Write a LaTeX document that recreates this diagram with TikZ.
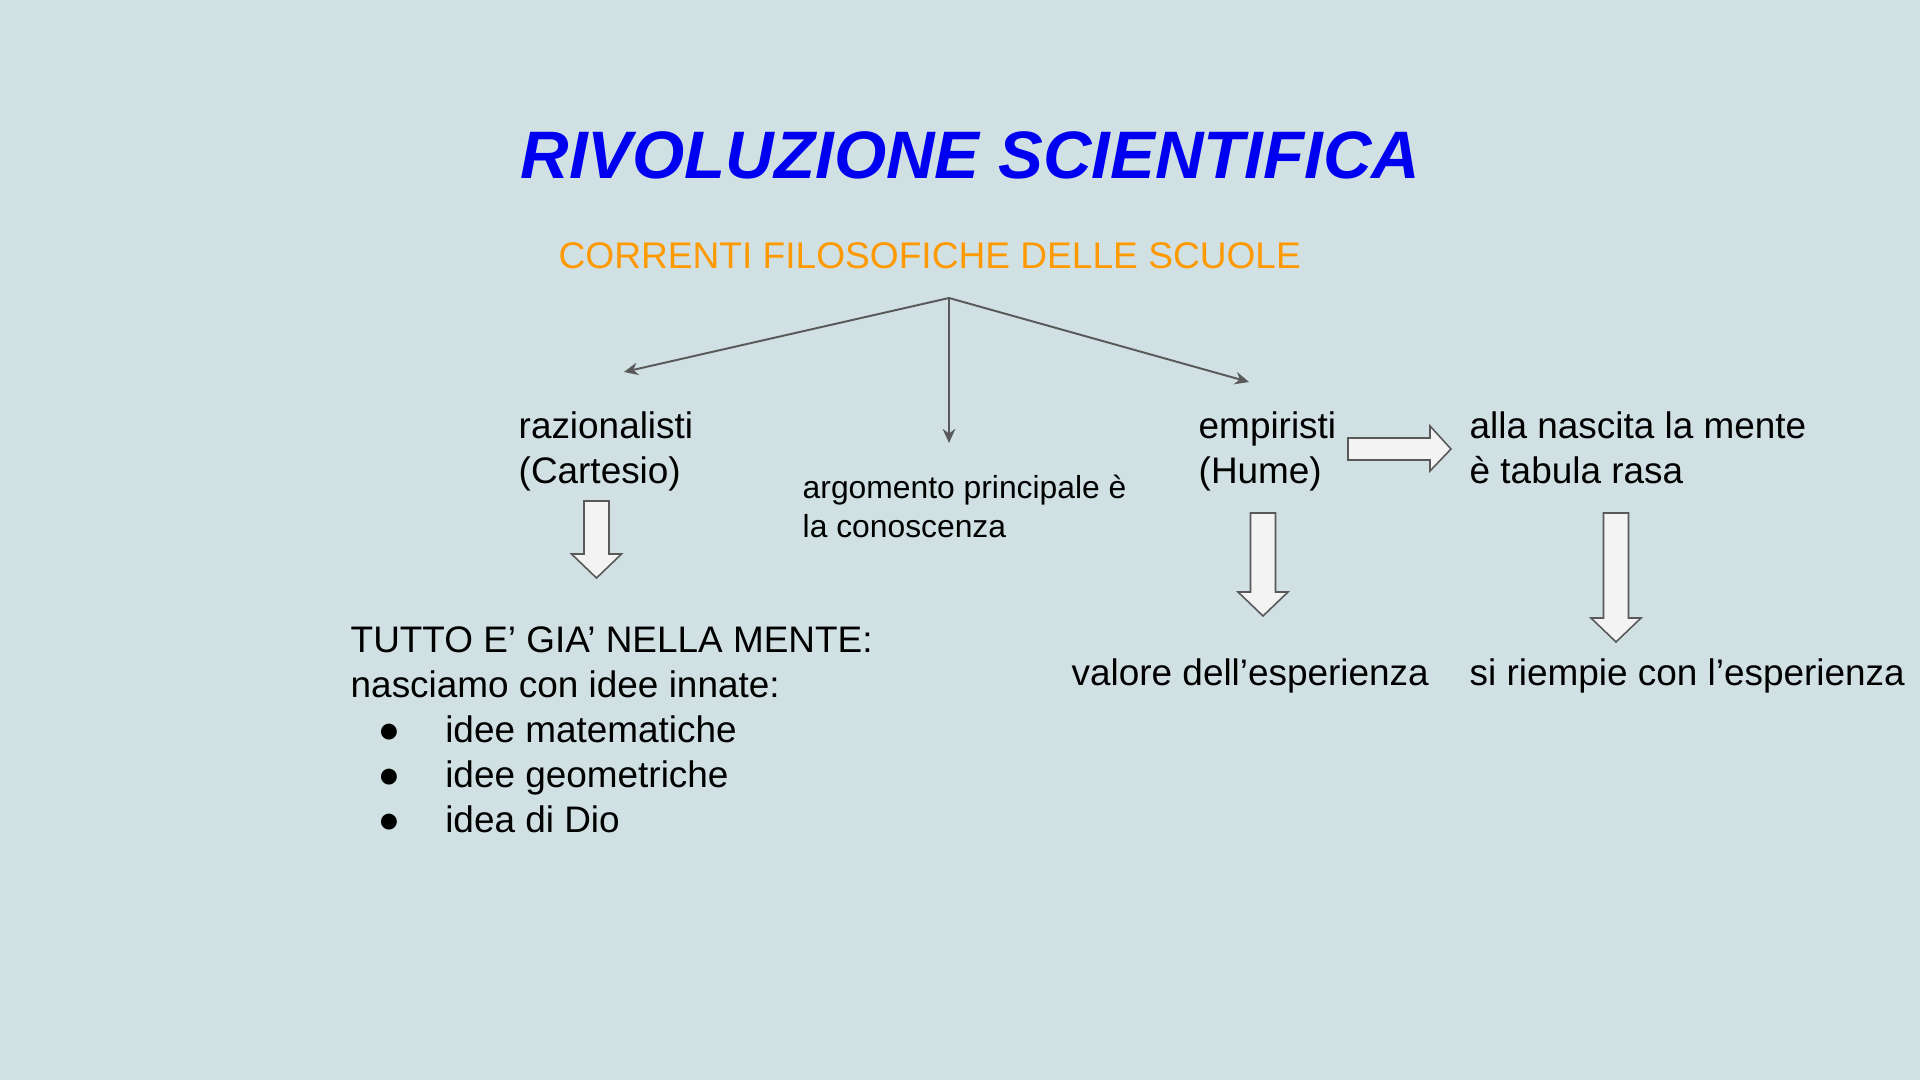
\documentclass[tikz,border=0pt]{standalone}
\usepackage{fontspec}
\setmainfont{Liberation Sans}
\usetikzlibrary{arrows.meta,positioning}

\definecolor{sfondo}{HTML}{D0E0E3}
\definecolor{blutitolo}{HTML}{0000F0}
\definecolor{arancio}{HTML}{FF9900}
\definecolor{grigiolinea}{HTML}{595959}
\definecolor{grigiofreccia}{HTML}{F3F3F3}

% block arrow pointing down: x centre, y top, y tip
\newcommand{\frecciagiu}[3]{%
  \draw[freccia blocco] (#1-12.5,#2) -- (#1+12.5,#2) -- (#1+12.5,#3-24)
    -- (#1+25,#3-24) -- (#1,#3) -- (#1-25,#3-24) -- (#1-12.5,#3-24) -- cycle;}

\begin{document}
\begin{tikzpicture}[x=0.01cm,y=-0.01cm]
   \tikzset{titolo node/.style={anchor=base west, inner sep=0,
   		text=blutitolo, font=\fontsize{19.1}{23}\selectfont\bfseries\itshape}, }
   \tikzset{sotto node/.style={anchor=base west, inner sep=0,
   		text=arancio, font=\fontsize{10.55}{12.8}\selectfont}, }
   \tikzset{testo node/.style={anchor=base west, inner sep=0, align=left,
   		font=\fontsize{10.5}{12.8}\selectfont}, }
   \tikzset{piccolo node/.style={anchor=base west, inner sep=0, align=left,
   		font=\fontsize{9.05}{11.1}\selectfont}, }
   \tikzset{linea/.style={draw=grigiolinea, line width=0.55pt,
   		-{Stealth[length=4pt,width=3.6pt]}},}
   \tikzset{freccia blocco/.style={draw=grigiolinea, fill=grigiofreccia,
   		line width=0.45pt, line join=miter},}

\useasboundingbox (0,0) rectangle (1920,1080);
\fill[sfondo] (0,0) rectangle (1920,1080);

\node[titolo node] (titolo) at (520,179) {RIVOLUZIONE SCIENTIFICA};
\node[sotto node] (correnti) at (558,269) {CORRENTI FILOSOFICHE DELLE SCUOLE};

% base = last line
\node[testo node] (raz) at (518,484) {razionalisti\\(Cartesio)};
\node[piccolo node] (arg) at (802,538) {argomento principale è\\la conoscenza};
\node[testo node] (emp) at (1198,484) {empiristi\\(Hume)};
\node[testo node] (nascita) at (1469,484) {alla nascita la mente\\è tabula rasa};

\node[testo node] (tutto) at (350,833) {TUTTO E’ GIA’ NELLA MENTE:\\
   nasciamo con idee innate:\\
   \hspace*{7.7pt}\makebox[19.2pt][l]{●}idee matematiche\\
   \hspace*{7.7pt}\makebox[19.2pt][l]{●}idee geometriche\\
   \hspace*{7.7pt}\makebox[19.2pt][l]{●}idea di Dio};
\node[testo node] (valore) at (1071,686) {valore dell’esperienza};
\node[testo node] (riempie) at (1469,686) {si riempie con l’esperienza};

% diramazione
\coordinate (fork) at (949,298);
\coordinate (fine raz) at (624,372);
\coordinate (fine arg) at (949,443);
\coordinate (fine emp) at (1249,382);
\foreach \y in {fine raz,fine arg,fine emp}
\draw[linea] (fork) -- (\y);

% frecce a blocco
\frecciagiu{596.5}{501}{578}
\frecciagiu{1263}{513}{616}
\frecciagiu{1616}{513}{642}
\draw[freccia blocco] (1348,438) -- (1430,438) -- (1430,426) -- (1451,449)
   -- (1430,471) -- (1430,460) -- (1348,460) -- cycle;
%
\end{tikzpicture}
\end{document}
